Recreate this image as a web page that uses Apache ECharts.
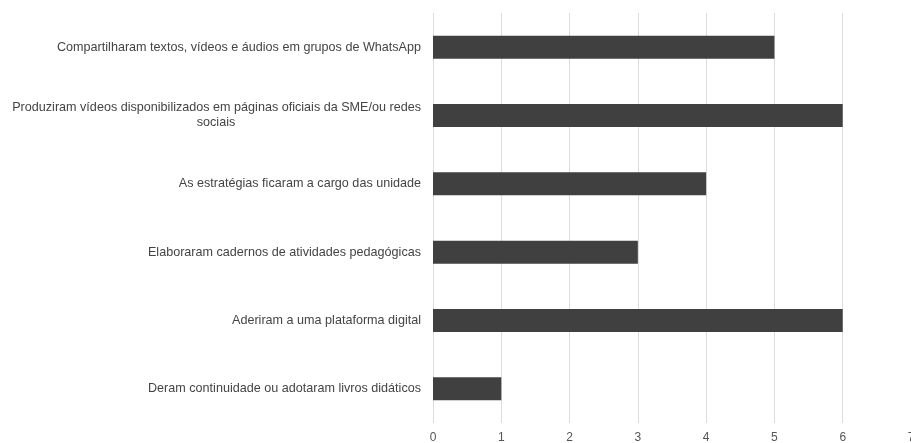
<!DOCTYPE html>
<html>
<head>
<meta charset="utf-8">
<script src="https://cdn.jsdelivr.net/npm/echarts@6/dist/echarts.min.js"></script>
<style>
  html, body { margin: 0; padding: 0; background: #fff; }
  #main { width: 911px; height: 443px; }
</style>
</head>
<body>
<div id="main"></div>
<script>
// top to bottom, as in the picture
const categories = [
  "Compartilharam textos, vídeos e áudios em grupos de WhatsApp",
  "Produziram vídeos disponibilizados em páginas oficiais da SME/ou redes\nsociais",
  "As estratégias ficaram a cargo das unidade",
  "Elaboraram cadernos de atividades pedagógicas",
  "Aderiram a uma plataforma digital",
  "Deram continuidade ou adotaram livros didáticos"
];
const values = [5, 6, 4, 3, 6, 1];

const chart = echarts.init(document.getElementById("main"));

chart.setOption({
  animation: false,
  textStyle: { fontFamily: "Liberation Sans, Arial, sans-serif" },
  grid: {
    left: 433,
    top: 13,
    width: 478,
    height: 410,
    containLabel: false,
    outerBoundsMode: "none"
  },
  xAxis: {
    type: "value",
    min: 0,
    max: 7,
    interval: 1,
    axisLine: { show: false },
    axisTick: { show: false },
    axisLabel: {
      color: "#555",
      fontSize: 12,
      margin: 9,
      hideOverlap: false
    },
    splitLine: {
      lineStyle: { color: "#dcdcdc", width: 1 }
    }
  },
  yAxis: {
    type: "category",
    inverse: true,
    data: categories,
    axisLine: { show: false },
    axisTick: { show: false },
    axisLabel: {
      color: "#444",
      fontSize: 12.6,
      margin: 12,
      lineHeight: 15,
      formatter: function (v) {
        if (v.indexOf("\n") >= 0) {
          const parts = v.split("\n");
          return "{a|" + parts[0] + "}\n{b|" + parts[1] + "}";
        }
        return v;
      },
      rich: {
        a: {
          color: "#444",
          fontSize: 12.6,
          lineHeight: 15,
          width: 410,
          align: "right"
        },
        b: {
          color: "#444",
          fontSize: 12.6,
          lineHeight: 15,
          width: 410,
          align: "center"
        }
      }
    }
  },
  series: [
    {
      type: "bar",
      data: values,
      barWidth: 23,
      itemStyle: { color: "#404040" }
    }
  ]
});
</script>
</body>
</html>
